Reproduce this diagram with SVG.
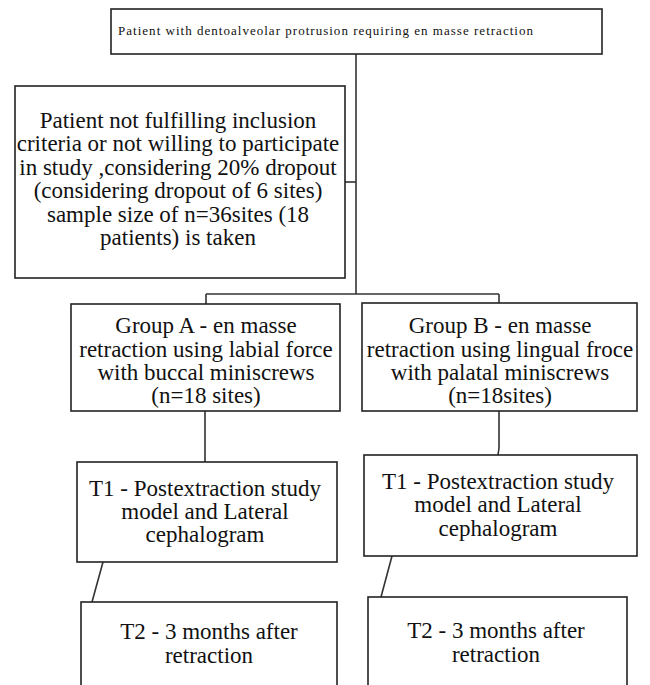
<svg xmlns="http://www.w3.org/2000/svg" width="650" height="685" viewBox="0 0 650 685">
<style>
.box{fill:#fff;stroke:#222;stroke-width:1.6}
.t{font-family:"Liberation Serif","Times New Roman",serif;font-size:23px;fill:#111;text-anchor:middle}
.s{font-family:"Liberation Serif","Times New Roman",serif;font-size:13px;fill:#111}
.c{fill:none;stroke:#333;stroke-width:1.6}
</style>
<rect width="650" height="685" fill="#fff"/>
<g id="connectors">
<path class="c" d="M356 54 V294"/>
<path class="c" d="M345 182 H356"/>
<path class="c" d="M206 294 H499"/>
<path class="c" d="M206 294 V304"/>
<path class="c" d="M499 294 V303"/>
<path class="c" d="M205 411 V462"/>
<path class="c" d="M499 411 V448 L498 455"/>
<path class="c" d="M103 562 L92 602"/>
<path class="c" d="M392 556 L381 597"/>
</g>
<g id="top">
<rect class="box" x="111" y="9" width="491" height="45"/>
<text class="s" x="118" y="35" textLength="415" lengthAdjust="spacing">Patient with dentoalveolar  protrusion  requiring  en masse  retraction</text>
</g>
<g id="excluded">
<rect class="box" x="15" y="86" width="330" height="192"/>
<text class="t" x="178" y="128">Patient not fulfilling inclusion</text>
<text class="t" x="178" y="151">criteria or not willing to participate</text>
<text class="t" x="178" y="175">in study ,considering 20% dropout</text>
<text class="t" x="178" y="198">(considering dropout of 6 sites)</text>
<text class="t" x="178" y="222">sample size of n=36sites (18</text>
<text class="t" x="178" y="245">patients) is taken</text>
</g>
<g id="groupA">
<rect class="box" x="71" y="304" width="269" height="107"/>
<text class="t" x="206" y="333">Group A - en masse</text>
<text class="t" x="206" y="357">retraction using labial force</text>
<text class="t" x="206" y="380">with buccal miniscrews</text>
<text class="t" x="206" y="403">(n=18 sites)</text>
</g>
<g id="groupB">
<rect class="box" x="362" y="303" width="275" height="108"/>
<text class="t" x="500" y="333">Group B - en masse</text>
<text class="t" x="500" y="357">retraction using lingual froce</text>
<text class="t" x="500" y="380">with palatal miniscrews</text>
<text class="t" x="500" y="403">(n=18sites)</text>
</g>
<g id="t1A">
<rect class="box" x="77" y="462" width="260" height="100"/>
<text class="t" x="205" y="496">T1 - Postextraction study</text>
<text class="t" x="205" y="519">model and Lateral</text>
<text class="t" x="205" y="542">cephalogram</text>
</g>
<g id="t1B">
<rect class="box" x="364" y="455" width="273" height="101"/>
<text class="t" x="498" y="489">T1 - Postextraction study</text>
<text class="t" x="498" y="512">model and Lateral</text>
<text class="t" x="498" y="536">cephalogram</text>
</g>
<g id="t2A">
<rect class="box" x="81" y="602" width="256" height="100"/>
<text class="t" x="209" y="639">T2 - 3 months after</text>
<text class="t" x="209" y="663">retraction</text>
</g>
<g id="t2B">
<rect class="box" x="368" y="597" width="259" height="105"/>
<text class="t" x="496" y="638">T2 - 3 months after</text>
<text class="t" x="496" y="662">retraction</text>
</g>
</svg>
